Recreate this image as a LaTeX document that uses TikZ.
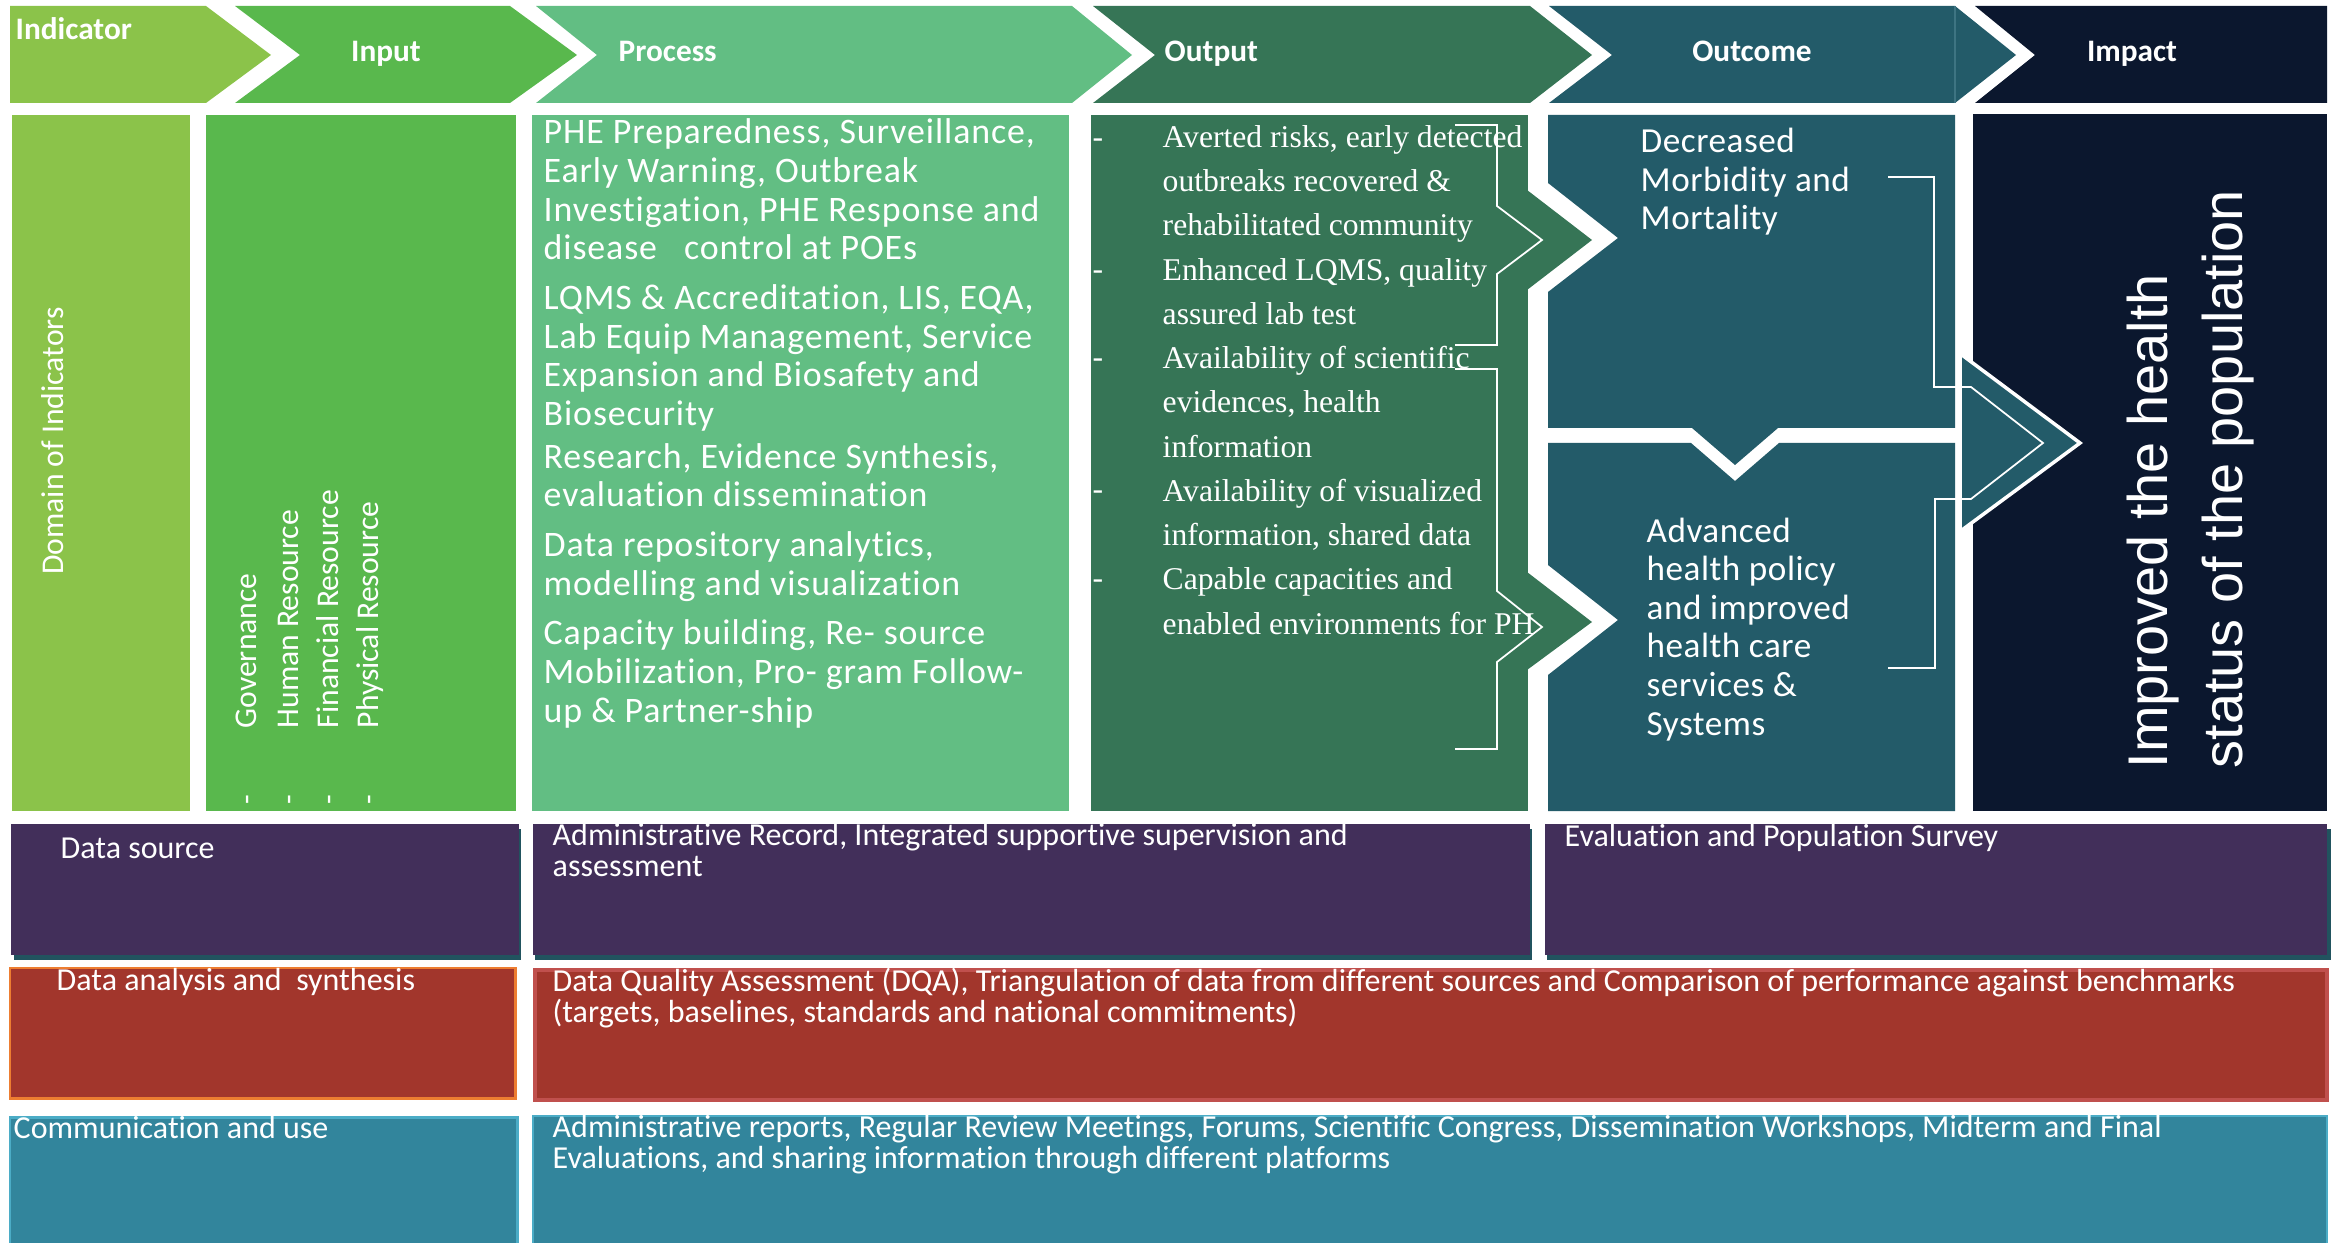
\documentclass[tikz,border=0pt]{standalone}
\usepackage{fontspec}
\setmainfont{Carlito}[Ligatures=NoCommon]
\newfontfamily\serifface{Liberation Serif}
\newfontfamily\arialface{Liberation Sans}
\newfontfamily\wideface[LetterSpace=1.5,Ligatures=NoCommon]{Carlito}
\newfontfamily\procface[LetterSpace=2.5,Ligatures=NoCommon]{Carlito}
\usepackage{tikz}
\usetikzlibrary{positioning}
\definecolor{indic}{rgb}{0.545, 0.765, 0.290}
\definecolor{inp}{rgb}{0.349, 0.722, 0.302}
\definecolor{proc}{rgb}{0.384, 0.745, 0.514}
\definecolor{outp}{rgb}{0.212, 0.459, 0.337}
\definecolor{outc}{rgb}{0.137, 0.357, 0.412}
\definecolor{outcline}{rgb}{0.243, 0.455, 0.510}
\definecolor{imp}{rgb}{0.043, 0.090, 0.180}
\definecolor{dsrc}{rgb}{0.259, 0.184, 0.353}
\definecolor{dsrcshadow}{rgb}{0.129, 0.325, 0.373}
\definecolor{anal}{rgb}{0.635, 0.212, 0.173}
\definecolor{analedge}{rgb}{0.929, 0.490, 0.192}
\definecolor{analedgeb}{rgb}{0.753, 0.314, 0.302}
\definecolor{comm}{rgb}{0.196, 0.522, 0.612}
\definecolor{commedge}{rgb}{0.294, 0.675, 0.776}
\tikzstyle{hdr}=[text=white,inner sep=0pt,anchor=base,font=\bfseries\fontsize{8.9}{10}\selectfont]
\tikzstyle{sidelabel}=[text=white,inner sep=0pt,rotate=90,anchor=base west,font=\fontsize{9}{10}\selectfont]
\tikzstyle{proctext}=[text=white,inner sep=0pt,anchor=base west,align=left,font=\procface\fontsize{10.2}{11}\selectfont]
\tikzstyle{outtext}=[text=white,inner sep=0pt,anchor=base west,align=left,font=\serifface\fontsize{9}{12.58}\selectfont]
\tikzstyle{outctext}=[text=white,inner sep=0pt,anchor=base west,align=left,font=\wideface\fontsize{10}{10.95}\selectfont]
\tikzstyle{impacttext}=[text=white,inner sep=0pt,rotate=90,anchor=base west,font=\arialface\fontsize{15.9}{18}\selectfont]
\tikzstyle{rowtext}=[text=white,inner sep=0pt,anchor=base west,align=left,font=\fontsize{9.1}{8.55}\selectfont]
\tikzstyle{bracket}=[white,line width=0.5pt]

\begin{document}
\begin{tikzpicture}[x=0.01cm,y=-0.01cm]
\useasboundingbox (0,0) rectangle (2333,1243);
\fill[indic] (10,6) -- (206,6) -- (271,55) -- (206,103) -- (10,103) -- cycle;
\fill[inp] (235,6) -- (510,6) -- (577,55) -- (510,103) -- (235,103) -- (300,55) -- cycle;
\fill[proc] (536,6) -- (1072,6) -- (1132,55) -- (1072,103) -- (536,103) -- (597,55) -- cycle;
\fill[outp] (1093,6) -- (1530,6) -- (1592,55) -- (1530,103) -- (1093,103) -- (1155,55) -- cycle;
\fill[outc] (1549,6) -- (1955,6) -- (2016,55) -- (1955,103) -- (1549,103) -- (1612,55) -- cycle;
\draw[outcline,line width=0.4pt] (1955,6) -- (1955,103);
\fill[imp] (1975,6) -- (2327,6) -- (2327,103) -- (1975,103) -- (2035,55) -- cycle;
\node[hdr,anchor=base west] (tIndicator) at (15,40) {Indicator};
\node[hdr] (tInput) at (386,62) {Input};
\node[hdr,anchor=base west] (tProcess) at (618,62) {Process};
\node[hdr,anchor=base west] (tOutput) at (1164,62) {Output};
\node[hdr] (tOutcome) at (1752,62) {Outcome};
\node[hdr] (tImpact) at (2132,62) {Impact};

\fill[indic] (12,115) rectangle (190,811);
\fill[inp] (206,115) rectangle (516,811);
\fill[proc] (532,115) rectangle (1069,811);
\fill[outp] (1091,115) rectangle (1528,811);
\fill[outp] (1527,190) -- (1592,240) -- (1527,290) -- cycle;
\fill[outp] (1527,572) -- (1592,622) -- (1527,670) -- cycle;
\fill[outc] (1548,115) -- (1955,115) -- (1955,428) -- (1778,428) -- (1735,465) -- (1692,428) -- (1548,428) -- (1548,292) -- (1618,238) -- (1548,183) -- cycle;
\fill[outc] (1548,443) -- (1691,443) -- (1735,481) -- (1779,443) -- (1955,443) -- (1955,811) -- (1548,811) -- (1548,675) -- (1618,620) -- (1548,565) -- cycle;
\fill[imp] (1973,114) rectangle (2327,811);
\fill[outc] (1962,355) -- (2080,443) -- (1962,530) -- cycle;
\draw[white,line width=1pt] (1962,355) -- (2080,443) -- (1962,530);

\node[sidelabel,anchor=base] (domain) at (64,441) {Domain of Indicators};
\node[sidelabel] (gov) at (256,729) {Governance};
\node[sidelabel] (hr) at (298,729) {Human Resource};
\node[sidelabel] (fin) at (338,729) {Financial Resource};
\node[sidelabel] (phys) at (378,729) {Physical Resource};
\node[sidelabel] (govDash) at (256,805) {-};
\node[sidelabel] (hrDash) at (298,805) {-};
\node[sidelabel] (finDash) at (338,805) {-};
\node[sidelabel] (physDash) at (378,805) {-};

% multi-line nodes sit on the baseline of their last line
\node[proctext] (procList) at (543,722) {PHE Preparedness, Surveillance,\\Early Warning, Outbreak\\Investigation, PHE Response and\\disease\ \ \ control at POEs\\[3.1pt]LQMS \& Accreditation, LIS, EQA,\\Lab Equip Management, Service\\Expansion and Biosafety and\\Biosecurity\\[1.1pt]Research, Evidence Synthesis,\\evaluation dissemination\\[3.1pt]Data repository analytics,\\modelling and visualization\\[3.1pt]Capacity building, Re- source\\Mobilization, Pro- gram Follow-\\up \& Partner-ship};

\node[outtext] (outList) at (1162,634) {Averted risks, early detected\\outbreaks recovered \&\\rehabilitated community\\Enhanced LQMS, quality\\assured lab test\\Availability of scientific\\evidences, health\\information\\Availability of visualized\\information, shared data\\Capable capacities and\\enabled environments for PH};
\node[outtext] (dashA) at (1092,148) {-};
\node[outtext] (dashB) at (1092,280) {-};
\node[outtext] (dashC) at (1092,368) {-};
\node[outtext] (dashD) at (1092,500) {-};
\node[outtext] (dashE) at (1092,588) {-};
\draw[bracket] (1455,125) -- (1497,125) -- (1497,206) -- (1542,240) -- (1497,274) -- (1497,345) -- (1455,345);
\draw[bracket] (1455,369) -- (1497,369) -- (1497,591) -- (1542,627) -- (1497,662) -- (1497,749) -- (1455,749);

\node[outctext] (outcTop) at (1640,230) {Decreased\\Morbidity and\\Mortality};
\node[outctext] (outcBottom) at (1646,735) {Advanced\\health policy\\and improved\\health care\\services \&\\Systems};
\draw[bracket] (1888,177) -- (1934,177) -- (1934,387) -- (1971,387) -- (2043,443) -- (1971,499) -- (1935,499) -- (1935,668) -- (1888,668);

\node[impacttext] (impactA) at (2167,769) {Improved the health};
\node[impacttext] (impactB) at (2242,769) {status of the population};

\fill[dsrcshadow] (14,829) rectangle (521,960);
\fill[dsrc] (11,824) rectangle (519,955);
\fill[dsrcshadow] (535,829) rectangle (1532,960);
\fill[dsrc] (533,824) rectangle (1530,955);
\fill[dsrcshadow] (1547,829) rectangle (2331,960);
\fill[dsrc] (1545,824) rectangle (2327,955);
\filldraw[fill=anal,draw=analedge,line width=0.85pt] (10,968) rectangle (515,1098);
\filldraw[fill=anal,draw=analedgeb,line width=1.2pt] (535,970) rectangle (2327,1100);
\filldraw[fill=comm,draw=commedge,line width=0.85pt] (10,1117) rectangle (517,1260);
\filldraw[fill=comm,draw=commedge,line width=0.4pt] (533,1116) rectangle (2327,1260);

\node[rowtext] (dsLabel) at (60,858) {Data source};
\node[rowtext] (dsAdmin) at (552,876) {Administrative Record, Integrated supportive supervision and\\assessment};
\node[rowtext] (dsEval) at (1564,846) {Evaluation and Population Survey};
\node[rowtext] (daLabel) at (56,990) {Data analysis and\ \ synthesis};
\node[rowtext] (daText) at (552,1022) {Data Quality Assessment (DQA), Triangulation of data from different sources and Comparison of performance against benchmarks\\(targets, baselines, standards and national commitments)};
\node[rowtext] (cuLabel) at (13,1138) {Communication and use};
\node[rowtext] (cuText) at (552,1168) {Administrative reports, Regular Review Meetings, Forums, Scientific Congress, Dissemination Workshops, Midterm and Final\\Evaluations, and sharing information through different platforms};
\end{tikzpicture}
\end{document}
